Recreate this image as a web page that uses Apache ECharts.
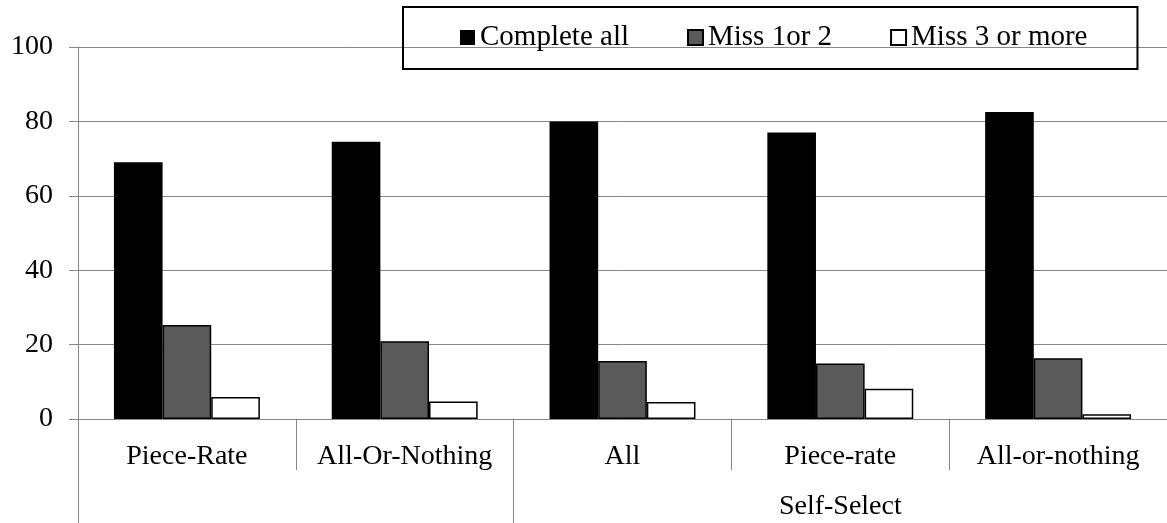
<!DOCTYPE html>
<html>
<head>
<meta charset="utf-8">
<script src="https://cdn.jsdelivr.net/npm/echarts@6/dist/echarts.min.js"></script>
<style>
html,body{margin:0;padding:0;background:#fff;}
#chart{width:1167px;height:523px;}
</style>
</head>
<body>
<div id="chart"></div>
<script>
const categories = ['Piece-Rate', 'All-Or-Nothing', 'All', 'Piece-rate', 'All-or-nothing'];
const groupLabels = ['', '', '', 'Self-Select', ''];
const completeAll = [69.0, 74.5, 80.0, 77.0, 82.5];
const miss1or2 = [25.3, 20.9, 15.6, 14.9, 16.3];
const miss3more = [5.9, 4.7, 4.6, 8.1, 1.3];
const seriesNames = ['Complete all', 'Miss 1or 2', 'Miss 3 or more'];

const FONT = "'Liberation Serif', 'Times New Roman', serif";
const GRAY = '#888888';

const chart = echarts.init(document.getElementById('chart'), null, {renderer: 'canvas'});
chart.setOption({
  animation: false,
  backgroundColor: '#fff',
  grid: {left: 78, right: -3, top: 47, bottom: 104, containLabel: false},
  legend: {
    left: 403, top: 7,
    padding: [16, 50, 17, 57],
    borderColor: '#000', borderWidth: 2,
    itemWidth: 15, itemHeight: 15, itemGap: 58,
    icon: 'rect',
    textStyle: {fontFamily: FONT, fontSize: 29, color: '#000'},
    data: seriesNames
  },
  xAxis: [
    {
      type: 'category', data: categories, gridIndex: 0, position: 'bottom',
      axisLine: {show: true, onZero: false, lineStyle: {color: GRAY, width: 1}},
      axisTick: {show: true, length: 51, lineStyle: {color: GRAY, width: 1}},
      axisLabel: {fontFamily: FONT, fontSize: 28, color: '#000', margin: 24, interval: 0}
    },
    {
      type: 'category', data: groupLabels, gridIndex: 0, position: 'bottom',
      axisLine: {show: false, onZero: false},
      axisTick: {show: true, length: 106, lineStyle: {color: GRAY, width: 1},
        interval: function (idx) { return idx === 0 || idx === 2; }},
      axisLabel: {fontFamily: FONT, fontSize: 28, color: '#000', margin: 74, interval: 0}
    }
  ],
  yAxis: {
    type: 'value', min: 0, max: 100, interval: 20,
    axisLine: {show: true, lineStyle: {color: GRAY, width: 1}},
    axisTick: {show: true, length: 9, lineStyle: {color: GRAY, width: 1}},
    axisLabel: {fontFamily: FONT, fontSize: 28, color: '#000', margin: 25},
    splitLine: {show: true, lineStyle: {color: GRAY, width: 1}}
  },
  series: [
    {name: seriesNames[0], type: 'bar', data: completeAll, barGap: '0%', barCategoryGap: '33%',
      itemStyle: {color: '#000', borderColor: '#000', borderWidth: 0}},
    {name: seriesNames[1], type: 'bar', data: miss1or2, barGap: '0%', barCategoryGap: '33%',
      itemStyle: {color: '#5a5a5a', borderColor: '#000', borderWidth: 1.5}},
    {name: seriesNames[2], type: 'bar', data: miss3more, barGap: '0%', barCategoryGap: '33%',
      itemStyle: {color: '#fff', borderColor: '#000', borderWidth: 1.5}}
  ]
});
</script>
</body>
</html>
